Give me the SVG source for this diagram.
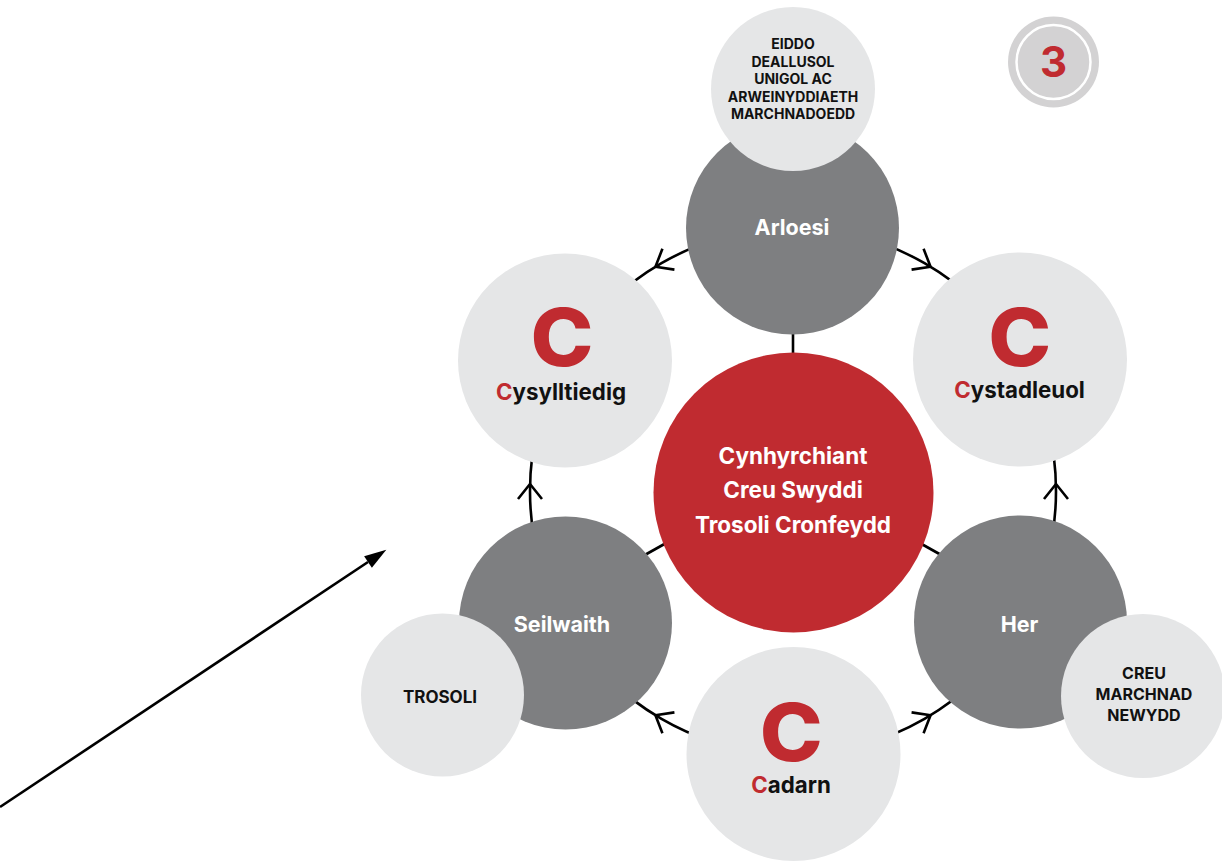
<svg xmlns="http://www.w3.org/2000/svg" width="1222" height="863" viewBox="0 0 1222 863">
<defs>
<style>
.lbl{font-family:Inter,"Noto Sans","Liberation Sans",sans-serif;font-weight:700;text-anchor:middle}
.big{font-weight:800}
.w{fill:#ffffff}
.k{fill:#111111}
.r{fill:#c02b30}
.dark{fill:#7e7f81}
.light{fill:#e5e6e7}
.red{fill:#c02b30}
.conn{fill:none;stroke:#000;stroke-width:2.6}
</style>
<marker id="chev" markerUnits="userSpaceOnUse" markerWidth="30" markerHeight="30" refX="0" refY="0" orient="auto" overflow="visible">
<path d="M -8 -12 L 7 0 L -8 12" fill="none" stroke="#000" stroke-width="2.6"/>
</marker>
<marker id="tri" markerUnits="userSpaceOnUse" markerWidth="30" markerHeight="30" refX="0" refY="0" orient="auto" overflow="visible">
<path d="M 0 -7 L 22 0 L 0 7 Z" fill="#000"/>
</marker>
</defs>
<rect width="1222" height="863" fill="#ffffff"/>
<g id="connectors">
<path class="conn" marker-mid="url(#chev)" d="M 793 228 A 263 263 0 0 0 661.5 263.2 A 263 263 0 0 0 565.2 359.5"/>
<path class="conn" marker-mid="url(#chev)" d="M 793 228 A 263 263 0 0 1 924.5 263.2 A 263 263 0 0 1 1020.8 359.5"/>
<path class="conn" marker-mid="url(#chev)" d="M 1020.8 622.5 A 263 263 0 0 0 1056 491 A 263 263 0 0 0 1020.8 359.5"/>
<path class="conn" marker-mid="url(#chev)" d="M 793 754 A 263 263 0 0 0 924.5 718.8 A 263 263 0 0 0 1020.8 622.5"/>
<path class="conn" marker-mid="url(#chev)" d="M 793 754 A 263 263 0 0 1 661.5 718.8 A 263 263 0 0 1 565.2 622.5"/>
<path class="conn" marker-mid="url(#chev)" d="M 565.2 622.5 A 263 263 0 0 1 530 491 A 263 263 0 0 1 565.2 359.5"/>
<line class="conn" x1="793" y1="330" x2="793" y2="358"/>
<line class="conn" x1="643" y1="556" x2="668" y2="542"/>
<line class="conn" x1="943" y1="556" x2="918" y2="542"/>
<line class="conn" x1="0" y1="807" x2="368" y2="562" marker-end="url(#tri)"/>
</g>
<g id="badge">
<circle cx="1053.5" cy="62" r="45.5" fill="#d3d2d3"/>
<circle cx="1053.5" cy="62" r="37" fill="#d3d2d3" stroke="#ffffff" stroke-width="2.5"/>
<text class="lbl r" x="1053.5" y="77" font-size="42">3</text>
</g>
<g id="node-center">
<circle class="red" cx="793.5" cy="492.5" r="140"/>
<text class="lbl w" x="793" y="464" font-size="22.5">Cynhyrchiant</text>
<text class="lbl w" x="793" y="498" font-size="22.5">Creu Swyddi</text>
<text class="lbl w" x="793" y="533" font-size="22.5">Trosoli Cronfeydd</text>
</g>
<g id="node-arloesi">
<circle class="dark" cx="792.5" cy="228" r="106.5"/>
<text class="lbl w" x="792" y="235" font-size="21.5">Arloesi</text>
</g>
<g id="node-eiddo">
<circle class="light" cx="793" cy="89" r="82"/>
<text class="lbl k" x="793" y="49" font-size="14">EIDDO</text>
<text class="lbl k" x="793" y="67" font-size="14">DEALLUSOL</text>
<text class="lbl k" x="793" y="84" font-size="14">UNIGOL AC</text>
<text class="lbl k" x="793" y="102" font-size="14">ARWEINYDDIAETH</text>
<text class="lbl k" x="793" y="119" font-size="14">MARCHNADOEDD</text>
</g>
<g id="node-cysylltiedig">
<circle class="light" cx="565" cy="360.5" r="107"/>
<text class="lbl big r" x="562" y="366" font-size="80" transform="translate(562 0) scale(1.06 1) translate(-562 0)">C</text>
<text class="lbl k" x="561" y="400" font-size="22.3"><tspan class="r">C</tspan>ysylltiedig</text>
</g>
<g id="node-cystadleuol">
<circle class="light" cx="1020" cy="359.5" r="107"/>
<text class="lbl big r" x="1019.7" y="366" font-size="80" transform="translate(1019.7 0) scale(1.06 1) translate(-1019.7 0)">C</text>
<text class="lbl k" x="1019.5" y="398" font-size="22.3"><tspan class="r">C</tspan>ystadleuol</text>
</g>
<g id="node-seilwaith">
<circle class="dark" cx="565.5" cy="623" r="106.5"/>
<text class="lbl w" x="562" y="632" font-size="21.5">Seilwaith</text>
</g>
<g id="node-trosoli">
<circle class="light" cx="442.5" cy="695" r="81.5"/>
<text class="lbl k" x="440" y="703" font-size="17">TROSOLI</text>
</g>
<g id="node-her">
<circle class="dark" cx="1020.5" cy="622" r="106.5"/>
<text class="lbl w" x="1019.5" y="632" font-size="21.5">Her</text>
</g>
<g id="node-creu">
<circle class="light" cx="1143" cy="696" r="82"/>
<text class="lbl k" x="1144" y="679" font-size="16">CREU</text>
<text class="lbl k" x="1144" y="700" font-size="16">MARCHNAD</text>
<text class="lbl k" x="1144" y="721" font-size="16">NEWYDD</text>
</g>
<g id="node-cadarn">
<circle class="light" cx="793.5" cy="754" r="107"/>
<text class="lbl big r" x="791.3" y="761" font-size="80" transform="translate(791.3 0) scale(1.06 1) translate(-791.3 0)">C</text>
<text class="lbl k" x="791" y="793" font-size="22.3"><tspan class="r">C</tspan>adarn</text>
</g>
</svg>
